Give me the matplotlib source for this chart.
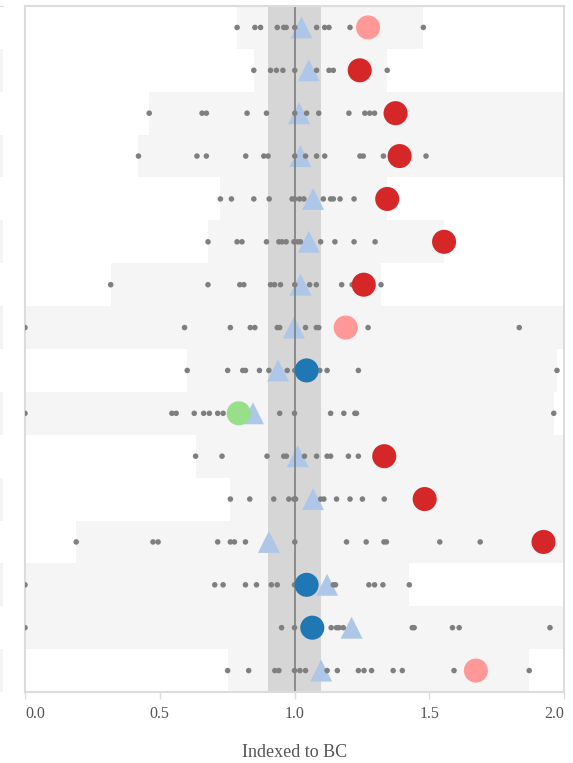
import numpy as np
import matplotlib.pyplot as plt

# one list of small grey dots per row, top row first (values > 2 sit off the chart)
dots = [
    [0.787, 0.853, 0.874, 0.936, 0.960, 0.969, 1.001, 1.082, 1.112, 1.128, 1.206, 1.478],
    [0.849, 0.911, 0.933, 0.957, 1.001, 1.082, 1.128, 1.144, 1.344],
    [0.461, 0.657, 0.673, 0.824, 0.896, 1.001, 1.045, 1.090, 1.202, 1.261, 1.279, 1.297, 2.2],
    [0.421, 0.638, 0.673, 0.819, 0.886, 0.902, 1.001, 1.041, 1.082, 1.112, 1.243, 1.255, 1.330, 1.488, 2.2],
    [0.725, 0.766, 0.849, 0.906, 0.991, 1.001, 1.019, 1.035, 1.107, 1.134, 1.144, 1.169, 1.221],
    [0.679, 0.787, 0.805, 0.896, 0.942, 0.954, 0.969, 0.998, 1.012, 1.022, 1.097, 1.150, 1.221, 1.299],
    [0.318, 0.679, 0.797, 0.812, 0.911, 0.926, 0.948, 1.001, 1.056, 1.081, 1.175, 1.214, 1.321],
    [0.0, 0.592, 0.762, 0.836, 0.853, 0.936, 0.945, 1.041, 1.081, 1.090, 1.273, 1.834, 2.2],
    [0.602, 0.752, 0.808, 0.818, 0.870, 0.905, 0.973, 1.001, 1.094, 1.121, 1.237, 1.974],
    [0.0, 0.545, 0.561, 0.628, 0.663, 0.684, 0.715, 0.735, 0.945, 1.000, 1.134, 1.183, 1.224, 1.230, 1.962],
    [0.633, 0.731, 0.898, 0.960, 0.970, 1.037, 1.082, 1.121, 1.134, 1.200, 1.237, 2.2],
    [0.762, 0.834, 0.923, 0.979, 0.998, 1.004, 1.097, 1.109, 1.156, 1.206, 1.252, 1.333, 2.2],
    [0.190, 0.475, 0.494, 0.715, 0.762, 0.777, 0.818, 1.001, 1.193, 1.266, 1.332, 1.341, 1.539, 1.689, 2.2],
    [0.0, 0.704, 0.735, 0.818, 0.859, 0.914, 0.936, 1.000, 1.144, 1.152, 1.276, 1.297, 1.328, 1.426],
    [0.0, 0.952, 1.000, 1.136, 1.156, 1.165, 1.181, 1.437, 1.444, 1.586, 1.611, 1.948, 2.2],
    [0.752, 0.830, 0.927, 0.942, 1.000, 1.020, 1.041, 1.121, 1.159, 1.237, 1.258, 1.286, 1.366, 1.400, 1.592, 1.871],
]
triangles = [1.026, 1.053, 1.017, 1.022, 1.069, 1.053, 1.022, 0.998,
             0.939, 0.846, 1.012, 1.069, 0.905, 1.121, 1.212, 1.099]
circles = [1.273, 1.242, 1.375, 1.390, 1.344, 1.555, 1.257, 1.190,
           1.045, 0.793, 1.333, 1.483, 1.924, 1.045, 1.066, 1.673]
circle_kind = ['pink', 'red', 'red', 'red', 'red', 'red', 'red', 'pink',
               'blue', 'green', 'red', 'red', 'red', 'blue', 'blue', 'pink']
ticks = [0.0, 0.5, 1.0, 1.5, 2.0]

palette = {'red': '#d62728', 'pink': '#ff9896', 'blue': '#1f77b4', 'green': '#98df8a'}
serif = ['Liberation Serif', 'DejaVu Serif']
edge = '#dcdcdc'

fig = plt.figure(figsize=(5.73, 7.63), dpi=100)
ax = fig.add_axes([25 / 573, 1 - 692 / 763, 539 / 573, 686 / 763])

n = len(dots)
rows = np.arange(n)

# range band of each row
lo = [min(d + [t, c]) for d, t, c in zip(dots, triangles, circles)]
hi = [max(d + [t, c]) for d, t, c in zip(dots, triangles, circles)]
ax.barh(rows, np.array(hi) - np.array(lo), left=lo, height=1.0,
        color='#f5f5f5', zorder=1)

ax.axvspan(0.9, 1.1, color='#d6d6d6', lw=0, zorder=1.5)
ax.axvline(1.0, color='#777777', lw=1.1, zorder=2.5)

ax.scatter(triangles, rows, marker='^', s=250, color='#aec7e8',
           edgecolors='none', zorder=2)
for i, d in enumerate(dots):
    ax.scatter(d, [i] * len(d), s=16, color='#7f7f7f', edgecolors='none', zorder=3)
ax.scatter(circles, rows, s=300, c=[palette[k] for k in circle_kind],
           edgecolors='none', zorder=4)

ax.set_xlim(0, 2)
ax.set_ylim(n - 0.5, -0.5)
ax.set_yticks([])
ax.set_xticks(ticks)
labels = ax.set_xticklabels([f'{t:.1f}' for t in ticks], family=serif,
                            fontsize=11.5, color='#555555')
labels[0].set_ha('left')
labels[-1].set_ha('right')
ax.tick_params(axis='x', length=5, width=1, color=edge, pad=5)
for s in ax.spines.values():
    s.set_color(edge)
    s.set_linewidth(1.5)
ax.set_xlabel('Indexed to BC', family=serif, fontsize=13, color='#555555',
              labelpad=16)

# sliver of the neighbouring panel at the left edge
side = fig.add_axes([0, 1 - 692 / 763, 3 / 573, 686 / 763])
for i in range(1, n, 2):
    side.axhspan(i - 0.5, i + 0.5, color='#f4f4f4', lw=0)
side.set_ylim(n - 0.5, -0.5)
side.set_xticks([])
side.set_yticks([])
for k, s in side.spines.items():
    s.set_visible(k == 'top')
    s.set_color(edge)

fig.savefig('out.png', dpi=100)
